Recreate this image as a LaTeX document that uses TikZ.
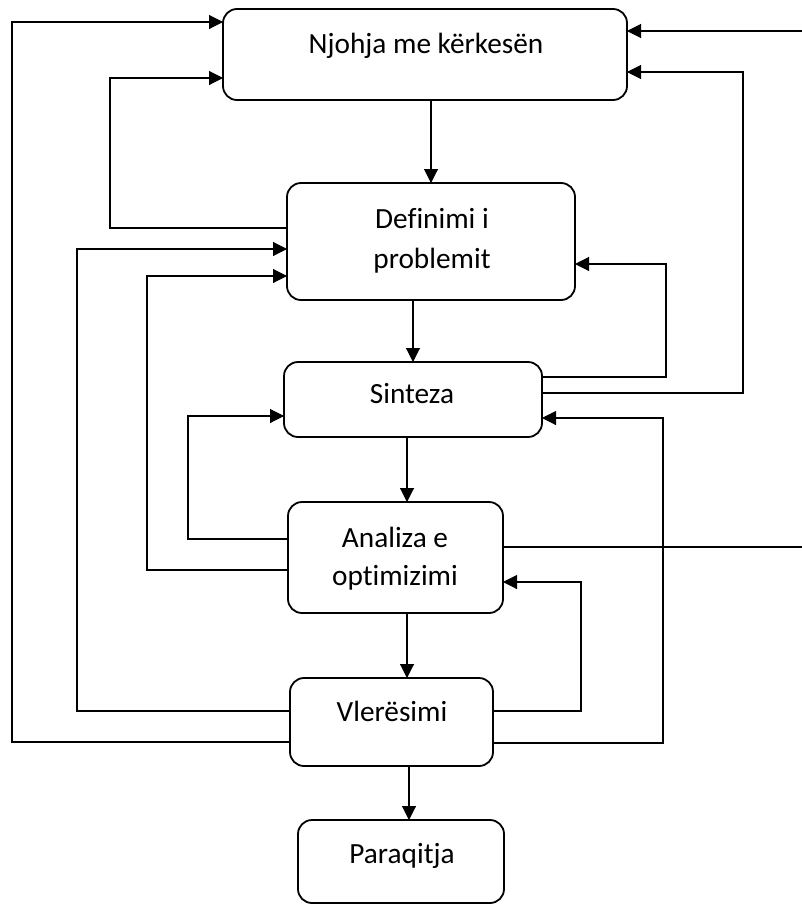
\documentclass[tikz,border=0pt]{standalone}
\usepackage{fontspec}
\setmainfont{Carlito}[Ligatures=NoCommon]
\usetikzlibrary{arrows.meta}
\begin{document}
\begin{tikzpicture}[x=1pt,y=-1pt,
  box/.style={draw, line width=1.8pt, rounded corners=14pt, inner sep=0pt, outer sep=0pt},
  lbl/.style={font=\fontsize{29.3}{39}\selectfont, inner sep=0pt, anchor=base},
  conn/.style={line width=1.1pt},
  arr/.style={conn, -{Triangle[length=14pt,width=14pt]}}]
\useasboundingbox (0,0) rectangle (802,905);

% boxes
\node[box, minimum width=404pt, minimum height=91pt] (n1) at (425,54.5) {};
\node[box, minimum width=288pt, minimum height=117pt] (def) at (431,241.5) {};
\node[box, minimum width=258pt, minimum height=75pt] (sin) at (413,399.5) {};
\node[box, minimum width=215pt, minimum height=111pt] (ana) at (395.5,557.5) {};
\node[box, minimum width=203pt, minimum height=88pt] (vle) at (391.5,722) {};
\node[box, minimum width=206pt, minimum height=83pt] (par) at (401,861.5) {};

% texts
\node[lbl] (t1) at (426,53) {Njohja me kërkesën};
\node[lbl] (t2a) at (432,228) {Definimi i};
\node[lbl] (t2b) at (432,268) {problemit};
\node[lbl] (t3) at (412,403) {Sinteza};
\node[lbl] (t4a) at (395,547) {Analiza e};
\node[lbl] (t4b) at (395,585) {optimizimi};
\node[lbl] (t5) at (392,721) {Vlerësimi};
\node[lbl] (t6) at (402,863) {Paraqitja};

% main flow
\draw[arr] (def.north |- n1.south) -- (def.north);
\draw[arr] (sin.north |- def.south) -- (sin.north);
\draw[arr] ([xshift=-6pt]sin.south) -- ([xshift=-6pt]sin.south |- ana.north);
\draw[arr] ([xshift=11.5pt]ana.south) -- ([xshift=11.5pt]ana.south |- vle.north);
\draw[arr] ([xshift=17.5pt]vle.south) -- ([xshift=17.5pt]vle.south |- par.north);

% left feedback
\draw[arr] (vle.west |- 0,742) -- (12,742) -- (12,22) -- (n1.west |- 0,22);
\draw[arr] (def.west |- 0,228) -- (110,228) -- (110,78) -- (n1.west |- 0,78);
\draw[arr] (vle.west |- 0,711) -- (77,711) -- (77,249) -- (def.west |- 0,249);
\draw[arr] (ana.west |- 0,570) -- (147,570) -- (147,276) -- (def.west |- 0,276);
\draw[arr] (ana.west |- 0,539) -- (188,539) -- (188,416) -- (sin.west |- 0,416);

% right feedback
\draw[arr] (ana.east |- 0,547) -- (804,547) -- (804,31) -- (n1.east |- 0,31);
\draw[arr] (sin.east |- 0,393) -- (743,393) -- (743,72) -- (n1.east |- 0,72);
\draw[arr] (sin.east |- 0,377) -- (666,377) -- (666,264) -- (def.east |- 0,264);
\draw[arr] (vle.east |- 0,743) -- (663,743) -- (663,418) -- (sin.east |- 0,418);
\draw[arr] (vle.east |- 0,711) -- (581,711) -- (581,582) -- (ana.east |- 0,582);
\end{tikzpicture}
\end{document}
